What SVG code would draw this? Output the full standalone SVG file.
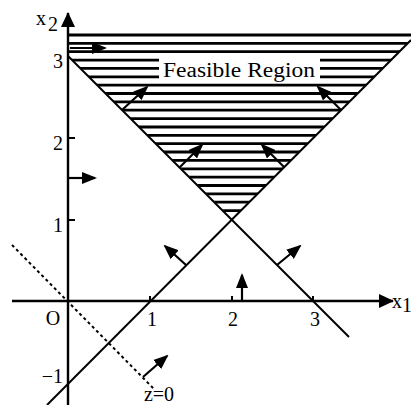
<svg xmlns="http://www.w3.org/2000/svg" width="411" height="405" viewBox="0 0 411 405">
<style>
.ln{stroke:#000;stroke-width:2;fill:none}
.ax{stroke:#000;stroke-width:2.4;fill:none}
.hatch{stroke:#000;stroke-width:2.8}
.ar{stroke:#000;stroke-width:2.2;fill:none;marker-end:url(#ah)}
.t{font-family:"Liberation Serif","Times New Roman",serif;font-size:20px;fill:#000}
.tk{stroke:#000;stroke-width:2}
</style>
<defs>
<marker id="ah" markerUnits="userSpaceOnUse" markerWidth="15" markerHeight="12" refX="13" refY="6" orient="auto">
<path d="M0,0 L15,6 L0,12 z" fill="#000"/>
</marker>
<marker id="axh" markerUnits="userSpaceOnUse" markerWidth="15" markerHeight="14" refX="14" refY="7" orient="auto">
<path d="M0,0 L15,7 L0,14 z" fill="#000"/>
</marker>
<clipPath id="reg">
<polygon points="68,33 411,33 411,40 232,219 68,56"/>
</clipPath>
</defs>

<g id="feasible-region">
<g clip-path="url(#reg)">
<line class="hatch" x1="68" y1="35" x2="411" y2="35" style="stroke-width:3.2"/>
<line class="hatch" x1="68" y1="43.4" x2="411" y2="43.4"/>
<line class="hatch" x1="68" y1="51.7" x2="411" y2="51.7"/>
<line class="hatch" x1="68" y1="60.1" x2="411" y2="60.1"/>
<line class="hatch" x1="68" y1="68.4" x2="411" y2="68.4"/>
<line class="hatch" x1="68" y1="76.8" x2="411" y2="76.8"/>
<line class="hatch" x1="68" y1="85.2" x2="411" y2="85.2"/>
<line class="hatch" x1="68" y1="93.5" x2="411" y2="93.5"/>
<line class="hatch" x1="68" y1="101.9" x2="411" y2="101.9"/>
<line class="hatch" x1="68" y1="110.2" x2="411" y2="110.2"/>
<line class="hatch" x1="68" y1="118.6" x2="411" y2="118.6"/>
<line class="hatch" x1="68" y1="127" x2="411" y2="127"/>
<line class="hatch" x1="68" y1="135.3" x2="411" y2="135.3"/>
<line class="hatch" x1="68" y1="143.7" x2="411" y2="143.7"/>
<line class="hatch" x1="68" y1="152" x2="411" y2="152"/>
<line class="hatch" x1="68" y1="160.4" x2="411" y2="160.4"/>
<line class="hatch" x1="68" y1="168.8" x2="411" y2="168.8"/>
<line class="hatch" x1="68" y1="177.1" x2="411" y2="177.1"/>
<line class="hatch" x1="68" y1="185.5" x2="411" y2="185.5"/>
<line class="hatch" x1="68" y1="193.8" x2="411" y2="193.8"/>
<line class="hatch" x1="68" y1="202.2" x2="411" y2="202.2"/>
<line class="hatch" x1="68" y1="210.6" x2="411" y2="210.6"/>
</g>
<rect x="159" y="56" width="161" height="24" fill="#fff"/>
<text class="t" x="163" y="77" font-size="23" textLength="152" lengthAdjust="spacingAndGlyphs">Feasible Region</text>
</g>

<g id="axes">
<line class="ax" x1="12" y1="301" x2="393" y2="301" marker-end="url(#axh)"/>
<line class="ax" x1="68" y1="405" x2="68" y2="13" marker-end="url(#axh)"/>
<line class="tk" x1="150" y1="301" x2="150" y2="296"/>
<line class="tk" x1="232" y1="301" x2="232" y2="296"/>
<line class="tk" x1="313" y1="301" x2="313" y2="296"/>
<line class="tk" x1="68" y1="220" x2="75" y2="220"/>
<line class="tk" x1="68" y1="138" x2="75" y2="138"/>
<text class="t" x="36" y="25" font-size="21">x</text>
<text class="t" x="48" y="31" font-size="13">2</text>
<text class="t" x="392" y="308" font-size="21">x</text>
<text class="t" x="402" y="312" font-size="11">1</text>
<text class="t" x="53" y="325" text-anchor="middle" font-size="21">O</text>
<text class="t" x="152" y="326" text-anchor="middle">1</text>
<text class="t" x="233" y="326" text-anchor="middle">2</text>
<text class="t" x="315" y="326" text-anchor="middle">3</text>
<text class="t" x="63" y="68" text-anchor="end">3</text>
<text class="t" x="63" y="150" text-anchor="end">2</text>
<text class="t" x="63" y="232" text-anchor="end">1</text>
<text class="t" x="63" y="383" text-anchor="end">−1</text>
</g>

<g id="constraint-lines">
<line class="ln" x1="68" y1="56" x2="349" y2="337"/>
<line class="ln" x1="47" y1="405" x2="411" y2="40"/>
<line class="ln" x1="12" y1="245" x2="155" y2="390" stroke-dasharray="3,3"/>
<text class="t" x="159" y="401" text-anchor="middle" font-size="19">z=0</text>
</g>

<g id="connectors">
<line class="ar" x1="70" y1="48" x2="105" y2="48"/>
<line class="ar" x1="68" y1="178" x2="95" y2="178"/>
<line class="ar" x1="122" y1="110" x2="147" y2="87"/>
<line class="ar" x1="341" y1="110" x2="318" y2="87"/>
<line class="ar" x1="180" y1="167" x2="202" y2="145"/>
<line class="ar" x1="284" y1="167" x2="262" y2="145"/>
<line class="ar" x1="186" y1="265" x2="165" y2="246"/>
<line class="ar" x1="277" y1="265" x2="300" y2="246"/>
<line class="ar" x1="242" y1="301" x2="242" y2="275"/>
<line class="ar" x1="143" y1="377" x2="167" y2="356"/>
</g>
</svg>
